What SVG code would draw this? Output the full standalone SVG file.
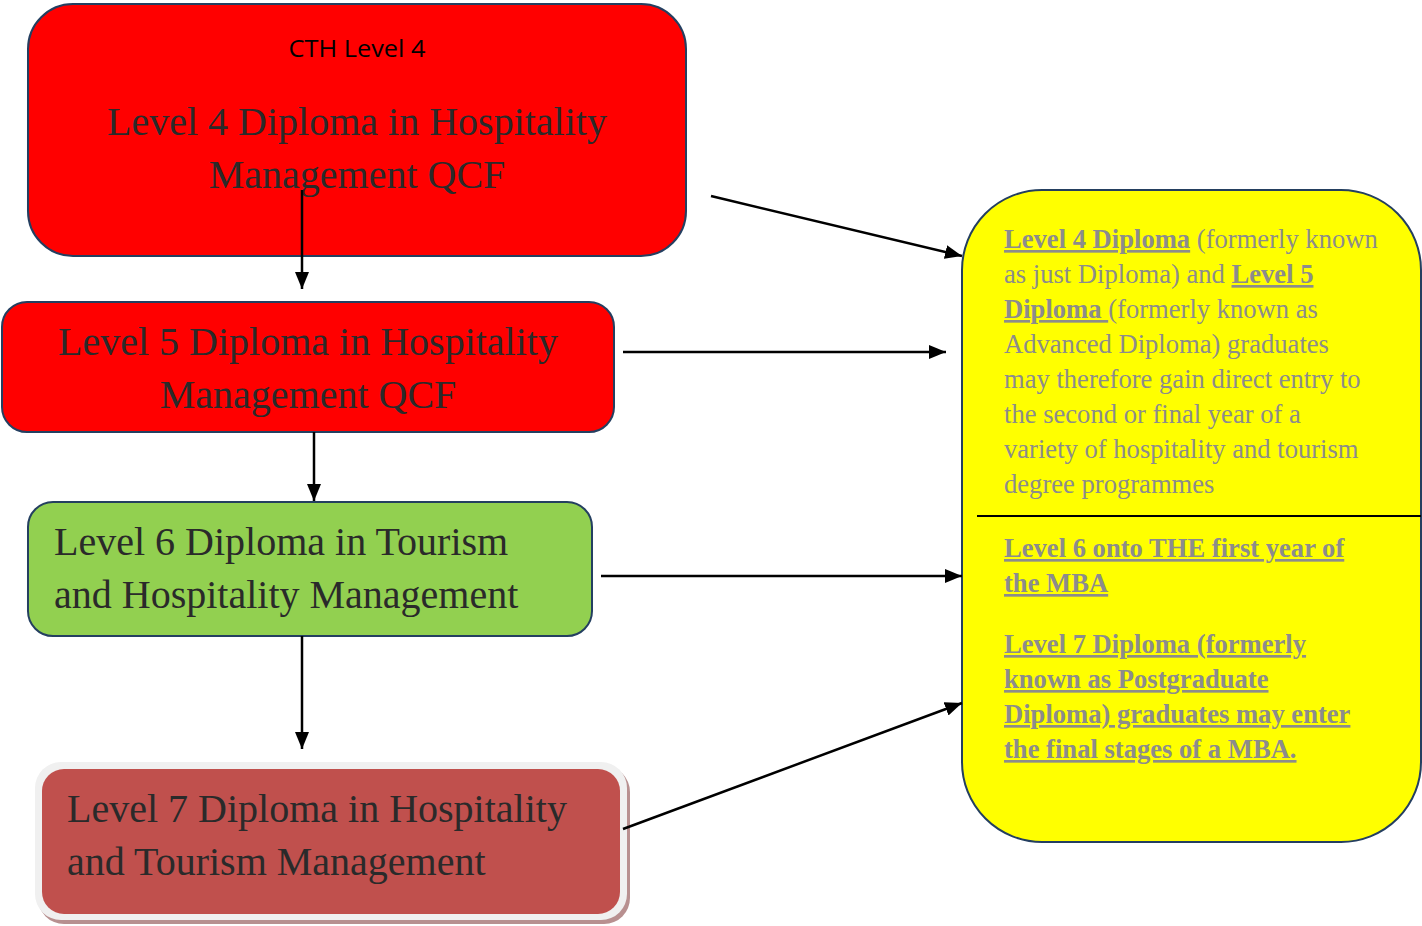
<svg xmlns="http://www.w3.org/2000/svg" width="1422" height="926" viewBox="0 0 1422 926">
<defs>
<marker id="ah" viewBox="0 0 16 13" refX="16" refY="6.5" markerWidth="17" markerHeight="14" markerUnits="userSpaceOnUse" orient="auto" preserveAspectRatio="none">
<path d="M0,0 L16,6.5 L0,13 z" fill="#000"/>
</marker>
</defs>
<style>
.box{stroke:#243F60;stroke-width:2}
.big{font-family:"Liberation Serif",serif;font-size:40px;fill:#2a2a2a}
.info{font-family:"Liberation Serif",serif;font-size:26.6px;fill:#8c8c8c}
.b{font-weight:bold;text-decoration:underline}
.conn line{stroke:#000;stroke-width:2.5;marker-end:url(#ah)}
</style>
<rect width="1422" height="926" fill="#fff"/>
<g id="info">
<rect class="box" x="962" y="190" width="459" height="652" rx="80" ry="80" fill="#FFFF00"/>
<line x1="977" y1="516" x2="1421" y2="516" stroke="#000" stroke-width="2"/>
<text class="info" x="1004" y="248"><tspan class="b">Level 4 Diploma</tspan> (formerly known</text>
<text class="info" x="1004" y="283">as just Diploma) and <tspan class="b">Level 5</tspan></text>
<text class="info" x="1004" y="318"><tspan class="b">Diploma </tspan>(formerly known as</text>
<text class="info" x="1004" y="353">Advanced Diploma) graduates</text>
<text class="info" x="1004" y="388">may therefore gain direct entry to</text>
<text class="info" x="1004" y="423">the second or final year of a</text>
<text class="info" x="1004" y="458">variety of hospitality and tourism</text>
<text class="info" x="1004" y="493">degree programmes</text>
<text class="info b" x="1004" y="557">Level 6 onto THE first year of</text>
<text class="info b" x="1004" y="592">the MBA</text>
<text class="info b" x="1004" y="653">Level 7 Diploma (formerly</text>
<text class="info b" x="1004" y="688">known as Postgraduate</text>
<text class="info b" x="1004" y="723">Diploma) graduates may enter</text>
<text class="info b" x="1004" y="758">the final stages of a MBA.</text>
</g>
<g id="level4">
<rect class="box" x="28" y="4" width="658" height="252" rx="45" ry="45" fill="#FF0000"/>
<text x="357" y="57" text-anchor="middle" font-family="'Open Sans','Liberation Sans',sans-serif" font-size="24" fill="#000" textLength="137" lengthAdjust="spacingAndGlyphs">CTH Level 4</text>
<text class="big" x="357" y="135" text-anchor="middle">Level 4 Diploma in Hospitality</text>
<text class="big" x="357" y="188" text-anchor="middle">Management QCF</text>
</g>
<g id="level5">
<rect class="box" x="2" y="302" width="612" height="130" rx="25" ry="25" fill="#FF0000"/>
<text class="big" x="308" y="355" text-anchor="middle">Level 5 Diploma in Hospitality</text>
<text class="big" x="308" y="408" text-anchor="middle">Management QCF</text>
</g>
<g id="level6">
<rect class="box" x="28" y="502" width="564" height="134" rx="25" ry="25" fill="#92D050"/>
<text class="big" x="54" y="555">Level 6 Diploma in Tourism</text>
<text class="big" x="54" y="608">and Hospitality Management</text>
</g>
<g id="level7">
<rect x="38" y="766" width="592" height="158" rx="26" ry="26" fill="#B89090"/>
<rect x="35" y="762" width="592" height="158" rx="26" ry="26" fill="#F0F0F0"/>
<rect x="42" y="769" width="578" height="145" rx="22" ry="22" fill="#C0504D"/>
<text class="big" x="67" y="822">Level 7 Diploma in Hospitality</text>
<text class="big" x="67" y="875">and Tourism Management</text>
</g>
<g class="conn" id="connectors">
<line x1="302" y1="190" x2="302" y2="289"/>
<line x1="314" y1="432" x2="314" y2="501"/>
<line x1="302" y1="636" x2="302" y2="749"/>
<line x1="711" y1="196" x2="962" y2="256"/>
<line x1="623" y1="352" x2="946" y2="352"/>
<line x1="601" y1="576" x2="962" y2="576"/>
<line x1="623" y1="829" x2="962" y2="703"/>
</g>
</svg>
